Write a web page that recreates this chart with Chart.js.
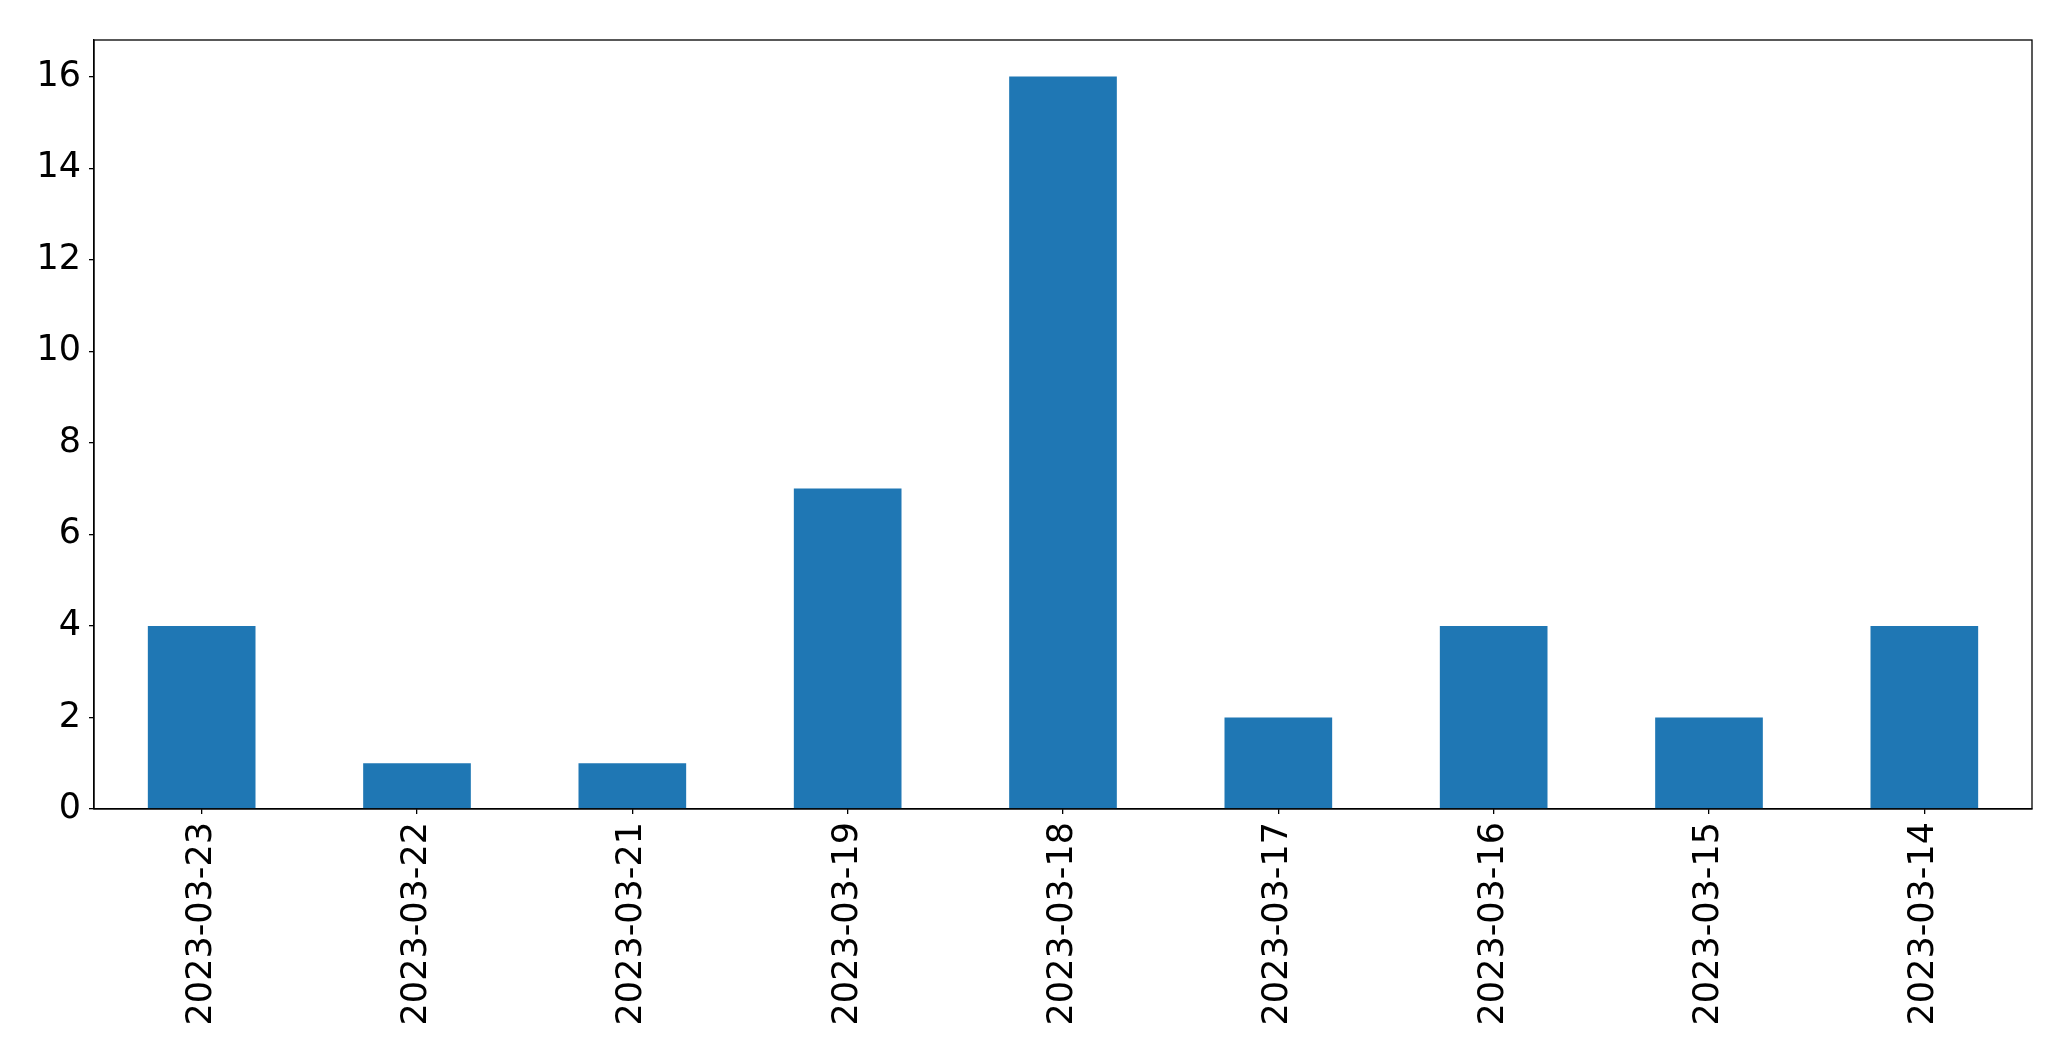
<!DOCTYPE html>
<html>
<head>
<meta charset="utf-8">
<script src="https://cdn.jsdelivr.net/npm/chart.js@4/dist/chart.umd.min.js"></script>
<style>
  html, body { margin: 0; padding: 0; background: #fff; }
  canvas { display: block; }
</style>
</head>
<body>
<canvas id="countChart" width="2071" height="1061"></canvas>
<script>
  // values
  const dates = ["2023-03-23", "2023-03-22", "2023-03-21", "2023-03-19", "2023-03-18",
                 "2023-03-17", "2023-03-16", "2023-03-15", "2023-03-14"];
  const counts = [4, 1, 1, 7, 16, 2, 4, 2, 4];
  const yTicks = [0, 2, 4, 6, 8, 10, 12, 14, 16];

  // draw the box round the plot area (matplotlib style frame)
  const frame = {
    id: "frame",
    afterDraw(chart) {
      const a = chart.chartArea;
      const ctx = chart.ctx;
      ctx.save();
      ctx.strokeStyle = "#000";
      ctx.lineWidth = 1.3;
      ctx.strokeRect(a.left, a.top, a.right - a.left, a.bottom - a.top);
      ctx.restore();
    }
  };

  const tickFont = { family: "DejaVu Sans", size: 35 };

  new Chart(document.getElementById("countChart").getContext("2d"), {
    type: "bar",
    data: {
      labels: dates,
      datasets: [
        {
          data: counts,
          backgroundColor: "#1f77b4",
          categoryPercentage: 1.0,
          barPercentage: 0.5,
        },
      ],
    },
    options: {
      responsive: false,
      animation: false,
      layout: { padding: { top: 40, right: 39, left: 0, bottom: 0 } },
      plugins: { legend: { display: false }, tooltip: { enabled: false } },
      scales: {
        x: {
          grid: { display: true, drawOnChartArea: false, offset: false, color: "#000", tickLength: 5, lineWidth: 1.3 },
          border: { color: "#000", width: 1.3 },
          ticks: { font: tickFont, color: "#000", minRotation: 90, maxRotation: 90, autoSkip: false, padding: 8 },
          afterFit(scale) { scale.height = 252; },
        },
        y: {
          min: 0,
          max: 16.8,
          afterBuildTicks(scale) { scale.ticks = yTicks.map(v => ({ value: v })); },
          grid: { display: true, drawOnChartArea: false, color: "#000", tickLength: 5, lineWidth: 1.3 },
          border: { color: "#000", width: 1.3 },
          ticks: { font: tickFont, color: "#000", padding: 8 },
          afterFit(scale) { scale.width = 94; },
        },
      },
    },
    plugins: [frame],
  });
</script>
</body>
</html>
